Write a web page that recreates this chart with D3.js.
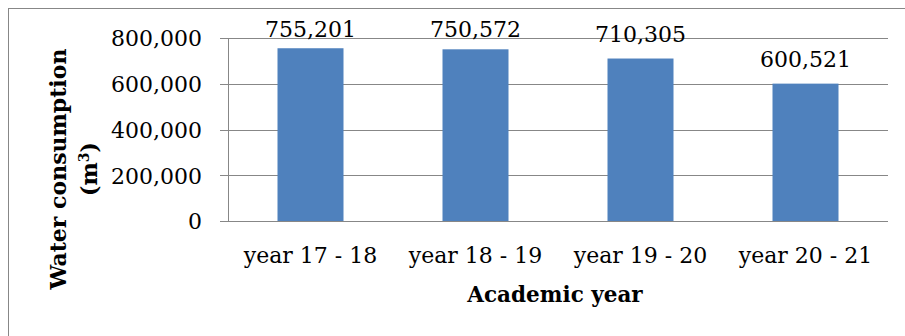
<!DOCTYPE html>
<html>
<head>
<meta charset="utf-8">
<script src="https://cdn.jsdelivr.net/npm/d3@7"></script>
<style>
  html, body { margin: 0; padding: 0; background: #fff; }
  svg { display: block; }
</style>
</head>
<body>
<script>
// Annual water consumption per academic year (m³)
const categories = ["year 17 - 18", "year 18 - 19", "year 19 - 20", "year 20 - 21"];
const consumption = [755201, 750572, 710305, 600521];
const yTicks = [0, 200000, 400000, 600000, 800000];

const W = 905, H = 336;
const plot = { left: 228, right: 888, top: 38, bottom: 221 };
const gridColor = "#878787";
const barColor = "#4F81BD";
const serif = "'DejaVu Serif', serif";

const svg = d3.select("body").append("svg")
  .attr("width", W).attr("height", H);

// Chart frame
svg.append("rect")
  .attr("x", 8.5).attr("y", 8.5)
  .attr("width", W + 20).attr("height", H + 20)
  .attr("fill", "#fff").attr("stroke", gridColor).attr("stroke-width", 1);

const x = d3.scaleBand()
  .domain(categories)
  .range([plot.left, plot.right])
  .paddingInner(0.6)
  .paddingOuter(0.3);

const y = d3.scaleLinear()
  .domain([0, 800000])
  .range([plot.bottom, plot.top]);

const fmt = d3.format(",");

// Horizontal gridlines with short outer ticks and value labels
const yAxis = d3.axisLeft(y)
  .tickValues(yTicks)
  .tickSize(-(plot.right - plot.left))
  .tickPadding(26)
  .tickFormat(fmt);

const gy = svg.append("g")
  .attr("transform", `translate(${plot.left},0)`)
  .call(yAxis);
gy.select(".domain").remove();
gy.selectAll(".tick line")
  .attr("x1", -8)
  .attr("stroke", gridColor).attr("stroke-width", 1)
  .attr("shape-rendering", "crispEdges");
gy.selectAll(".tick text")
  .attr("font-family", serif).attr("font-size", 22)
  .attr("fill", "#000")
  .attr("dy", "0.36em");

// Vertical value axis line
svg.append("line")
  .attr("x1", plot.left + 0.5).attr("x2", plot.left + 0.5)
  .attr("y1", plot.top).attr("y2", plot.bottom)
  .attr("stroke", gridColor).attr("stroke-width", 1);

// Bars
svg.append("g").selectAll("rect")
  .data(consumption)
  .join("rect")
  .attr("x", (d, i) => x(categories[i]))
  .attr("y", d => y(d))
  .attr("width", x.bandwidth())
  .attr("height", d => y(0) - y(d))
  .attr("fill", barColor);

// Redraw baseline over bars
svg.append("line")
  .attr("x1", plot.left - 8).attr("x2", plot.right)
  .attr("y1", y(0) + 0.5).attr("y2", y(0) + 0.5)
  .attr("stroke", gridColor).attr("stroke-width", 1);

// Value labels above bars (kept inside the chart area)
svg.append("g").selectAll("text")
  .data(consumption)
  .join("text")
  .attr("x", (d, i) => x(categories[i]) + x.bandwidth() / 2)
  .attr("y", d => Math.max(y(d) - 17, plot.top - 1))
  .attr("text-anchor", "middle")
  .attr("font-family", serif).attr("font-size", 22)
  .attr("fill", "#000")
  .text(d => fmt(d));

// Category axis labels
const xAxis = d3.axisBottom(x).tickSize(0).tickPadding(0);
const gx = svg.append("g")
  .attr("transform", `translate(0,${plot.bottom})`)
  .call(xAxis);
gx.select(".domain").remove();
gx.selectAll(".tick text")
  .attr("font-family", serif).attr("font-size", 22)
  .attr("fill", "#000")
  .attr("y", 42).attr("dy", 0);

// Axis titles
svg.append("text")
  .attr("x", (plot.left + plot.right) / 2 - 3)
  .attr("y", 302)
  .attr("text-anchor", "middle")
  .attr("font-family", serif).attr("font-size", 21.5).attr("font-weight", "bold")
  .attr("fill", "#000")
  .text("Academic year");

const yTitle = svg.append("text")
  .attr("transform", "translate(0,169) rotate(-90)")
  .attr("text-anchor", "middle")
  .attr("font-family", serif).attr("font-size", 22).attr("font-weight", "bold")
  .attr("fill", "#000");
yTitle.append("tspan").attr("x", 0).attr("y", 66).text("Water consumption");
const l2 = yTitle.append("tspan").attr("x", 0).attr("y", 97);
l2.append("tspan").text("(m");
l2.append("tspan").attr("dy", -8).attr("font-size", 14).text("3");
l2.append("tspan").attr("dy", 8).text(")");
</script>
</body>
</html>
